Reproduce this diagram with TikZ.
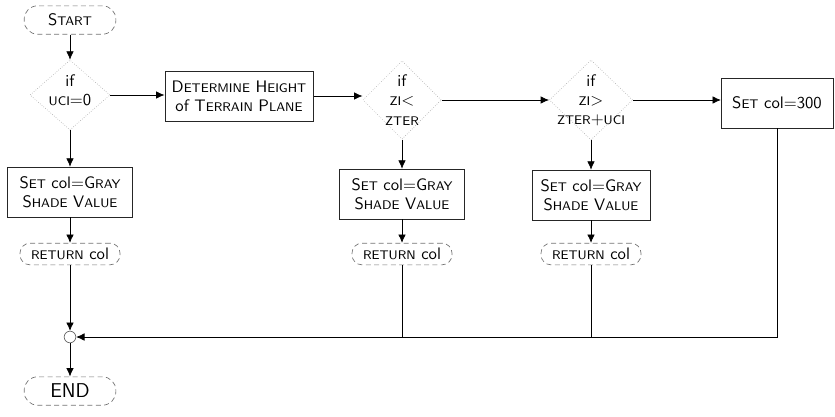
\documentclass[tikz,border=0pt]{standalone}
\usepackage{tikz}
\usetikzlibrary{arrows.meta,shapes.geometric,calc}
\renewcommand{\familydefault}{\sfdefault}
\newcommand{\smc}[1]{{\fontsize{7.5}{9}\selectfont\MakeUppercase{#1}}}

\begin{document}
\begin{tikzpicture}[x=0.6pt,y=-0.6pt,
  font=\fontsize{10}{11.5}\selectfont,
  term/.style={draw=black!55, densely dashed, rounded corners=8pt,
    minimum width=55pt, minimum height=17pt, inner sep=1pt},
  retbox/.style={draw=black!55, densely dashed, rounded corners=6pt,
    minimum width=60pt, minimum height=13pt, inner sep=1pt},
  proc/.style={draw=black!85, thin, align=center, minimum height=30pt, inner sep=2pt},
  dec/.style={diamond, draw=black!30, densely dotted, inner sep=0pt},
  flow/.style={thin, -{Latex[length=5pt,width=4.5pt]}}]
  \useasboundingbox (0,0) rectangle (835,416);

  % left column
  \node[term] (start) at (70,20) {S\smc{tart}};
  \node[dec, minimum width=48pt, minimum height=42pt,
    label={[align=center, yshift=3pt]center:{if\\\smc{uci}=0}}] (ifuci) at (70,95) {};
  \node[proc, minimum width=75pt] (gray1) at (70,192) {S\smc{et} col=G\smc{ray}\\S\smc{hade} V\smc{alue}};
  \node[retbox] (ret1) at (70,254) {\smc{return} col};
  \node[circle, draw=black!60, minimum size=7pt, inner sep=0pt] (join) at (70,337) {};
  \node[term] (end) at (70,391) {\fontsize{12}{14}\selectfont END};

  % top row
  \node[proc, minimum width=89pt] (height) at (239,96) {D\smc{etermine} H\smc{eight}\\of T\smc{errain} P\smc{lane}};
  \node[dec, minimum width=47pt, minimum height=47pt,
    label={[align=center]center:{if\\\smc{zi}<\\\smc{zter}}}] (ifless) at (402,100) {};
  \node[dec, minimum width=50pt, minimum height=48pt,
    label={[align=center]center:{if\\\smc{zi}>\\\smc{zter}+\smc{uci}}}] (ifmore) at (591,100) {};
  \node[proc, minimum width=67pt] (set300) at (777,103) {S\smc{et} col=300};

  % middle and right columns
  \node[proc, minimum width=75pt] (gray2) at (402,194) {S\smc{et} col=G\smc{ray}\\S\smc{hade} V\smc{alue}};
  \node[retbox] (ret2) at (402,254) {\smc{return} col};
  \node[proc, minimum width=71pt] (gray3) at (591,195) {S\smc{et} col=G\smc{ray}\\S\smc{hade} V\smc{alue}};
  \node[retbox] (ret3) at (591,254) {\smc{return} col};

  \draw[flow] (start) -- (ifuci);
  \draw[flow] (ifuci.east) -- (ifuci.east -| height.west);
  \draw[flow] (height.east) -- (height.east -| ifless.west);
  \draw[flow] (ifless.east) -- (ifmore.west);
  \draw[flow] (ifmore.east) -- (ifmore.east -| set300.west);
  \draw[flow] (ifuci) -- (gray1);
  \draw[flow] (ifless) -- (gray2);
  \draw[flow] (ifmore) -- (gray3);
  \draw[flow] (gray1) -- (ret1);
  \draw[flow] (gray2) -- (ret2);
  \draw[flow] (gray3) -- (ret3);
  \draw[flow] (ret1) -- (join);
  \draw[flow] (join) -- (end);
  \draw[flow] (set300.south) |- (join.east);
  \draw (ret2.south) -- (ret2.south |- join.east);
  \draw (ret3.south) -- (ret3.south |- join.east);
\end{tikzpicture}
\end{document}
